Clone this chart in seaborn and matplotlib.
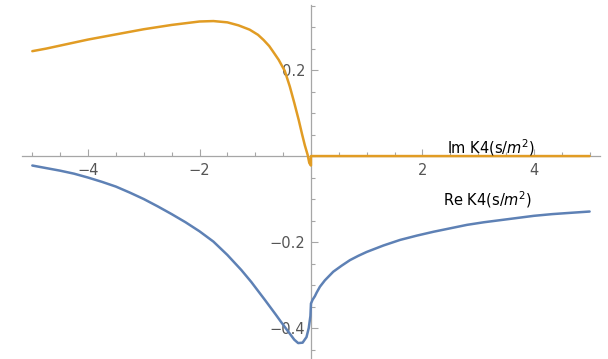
import matplotlib

matplotlib.use("Agg")
import matplotlib.pyplot as plt
import numpy as np
import pandas as pd
import seaborn as sns

# values
x_im = [-5.0, -4.75, -4.5, -4.25, -4.0, -3.75, -3.5, -3.25, -3.0, -2.75, -2.5,
        -2.25, -2.0, -1.75, -1.5, -1.3, -1.1, -0.95, -0.85, -0.75, -0.68,
        -0.58, -0.47, -0.38, -0.3, -0.22, -0.16, -0.11, -0.06, -0.03, 0.0,
        0.0, 5.0]
im_k4 = [0.244, 0.250, 0.257, 0.264, 0.271, 0.277, 0.283, 0.289, 0.295, 0.300,
         0.305, 0.309, 0.313, 0.314, 0.311, 0.304, 0.294, 0.282, 0.270, 0.256,
         0.243, 0.224, 0.198, 0.162, 0.124, 0.084, 0.051, 0.025, 0.003, -0.016,
         -0.022, 0.0, 0.0]

x_re = [-5.0, -4.75, -4.5, -4.25, -4.0, -3.75, -3.5, -3.25, -3.0, -2.75, -2.5,
        -2.25, -2.0, -1.75, -1.5, -1.25, -1.07, -1.0, -0.83, -0.75, -0.63,
        -0.53, -0.45, -0.38, -0.3, -0.23, -0.15, -0.08, -0.04, -0.01, 0.0,
        0.03, 0.07, 0.1, 0.16, 0.25, 0.4, 0.55, 0.7, 0.85, 1.0, 1.3, 1.6, 1.9,
        2.2, 2.5, 2.8, 3.1, 3.4, 3.7, 4.0, 4.33, 4.66, 5.0]
re_k4 = [-0.022, -0.028, -0.034, -0.041, -0.050, -0.060, -0.071, -0.085,
         -0.100, -0.117, -0.135, -0.154, -0.175, -0.199, -0.230, -0.265,
         -0.293, -0.305, -0.334, -0.348, -0.369, -0.387, -0.401, -0.413,
         -0.427, -0.435, -0.434, -0.421, -0.400, -0.372, -0.343, -0.334,
         -0.326, -0.318, -0.304, -0.289, -0.269, -0.255, -0.242, -0.232,
         -0.223, -0.208, -0.195, -0.185, -0.176, -0.168, -0.160, -0.154,
         -0.149, -0.144, -0.139, -0.135, -0.132, -0.129]

x_ticks = [-4, -2, 2, 4]
y_ticks = [-0.4, -0.2, 0.2]
labels = ["Re K4(s/$m^2$)", "Im K4(s/$m^2$)"]

sns.set_style("white")
plt.rcParams["font.family"] = ["DejaVu Sans"]
plt.rcParams["mathtext.fontset"] = "dejavusans"

fig = plt.figure(figsize=(6.08, 3.59), dpi=100)
ax = fig.add_axes([0, 0, 1, 1])

re_df = pd.DataFrame({"x": x_re, "y": re_k4})
im_df = pd.DataFrame({"x": x_im, "y": im_k4})
sns.lineplot(data=re_df, x="x", y="y", estimator=None, sort=False,
             color="#5E81B5", linewidth=1.8, ax=ax, zorder=3)
sns.lineplot(data=im_df, x="x", y="y", estimator=None, sort=False,
             color="#E19C24", linewidth=1.8, ax=ax, zorder=3)

ax.set_xlim(-5.58, 5.33)
ax.set_ylim(-0.472, 0.363)

for side in ["top", "right"]:
    ax.spines[side].set_visible(False)
ax.spines["bottom"].set_position(("data", 0))
ax.spines["left"].set_position(("data", 0))
ax.spines["bottom"].set_bounds(-5.19, 5.19)
ax.spines["left"].set_bounds(-0.472, 0.351)
for side in ["bottom", "left"]:
    ax.spines[side].set_color("#A6A6A6")
    ax.spines[side].set_linewidth(0.9)

ax.set_xticks(x_ticks)
ax.set_xticklabels([f"\u2212{abs(v)}" if v < 0 else f"{v}" for v in x_ticks])
ax.set_yticks(y_ticks)
ax.set_yticklabels([f"\u2212{abs(v)}" if v < 0 else f"{v}" for v in y_ticks])
ax.set_xticks(np.arange(-10, 11) * 0.5, minor=True)
ax.set_yticks(np.arange(-9, 8) * 0.05, minor=True)
ax.tick_params(which="both", bottom=True, left=True, direction="in",
               color="#A6A6A6", width=0.8, labelcolor="#555555", labelsize=10.5)
ax.tick_params(which="major", length=5)
ax.tick_params(which="minor", length=3)
ax.tick_params(axis="x", pad=5)
ax.tick_params(axis="y", pad=4)
ax.set_xlabel("")
ax.set_ylabel("")

ax.text(2.44, 0.007, labels[1], fontsize=10.5, color="black", va="baseline")
ax.text(2.37, -0.114, labels[0], fontsize=10.5, color="black", va="baseline")

fig.savefig("out.png", dpi=100)
